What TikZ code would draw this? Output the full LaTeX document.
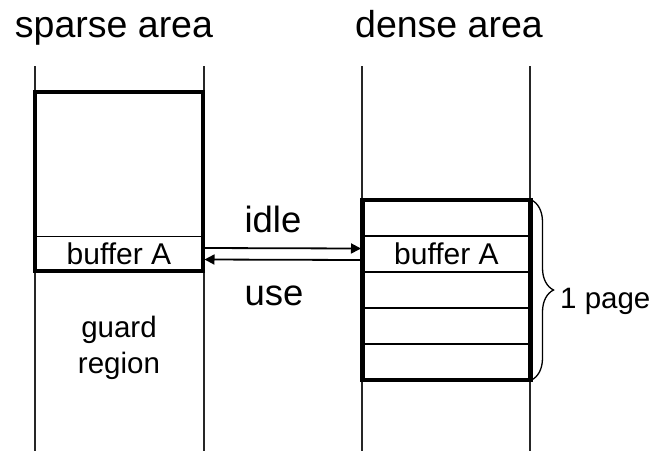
\documentclass[tikz,border=0pt]{standalone}
\usepackage{fontspec}
\setmainfont{Liberation Sans}
\usetikzlibrary{arrows.meta,decorations.pathreplacing}

\begin{document}
\begin{tikzpicture}[x=1pt,y=-1pt,
  title/.style={font=\fontsize{37.5}{45}\selectfont, anchor=base, inner sep=0pt},
  label/.style={font=\fontsize{36.5}{44}\selectfont, anchor=base, inner sep=0pt},
  small/.style={font=\fontsize{29.5}{36}\selectfont, anchor=base, inner sep=0pt},
  column/.style={line width=1.3pt, black!85},
  outerbox/.style={draw, line width=4.5pt, minimum width=168pt, inner sep=0pt, outer sep=0pt},
  slot/.style={draw, line width=1.4pt, minimum width=168pt, minimum height=36pt,
               inner sep=0pt, outer sep=0pt, font=\fontsize{30}{36}\selectfont},
  flow/.style={line width=1.8pt, -{Triangle[length=10pt,width=10pt]}},
  pagebrace/.style={line width=1.3pt, decorate, decoration={brace, amplitude=22pt}}
]
\useasboundingbox (0,0) rectangle (653,451);

% column boundaries
\draw[column] (35,66) -- (35,451);
\draw[column] (204,66) -- (204,451);
\draw[column] (362,66) -- (362,451);
\draw[column] (530,66) -- (530,451);

% headings
\node[title] (hsparse) at (114,37.5) {sparse area};
\node[title] (hdense)  at (449,37.5) {dense area};

% sparse area: one large block with the buffer at its bottom
\node[slot, line width=1pt, minimum height=35pt] (bufL) at (119,253.5) {buffer A};
\node[outerbox, minimum height=179pt] (sparse) at (119,181.5) {};
\node[small] (guard)  at (119,337) {guard};
\node[small] (region) at (119,373) {region};

% dense area: five packed slots forming one page
\node[slot] (d1)   at (446.5,218) {};
\node[slot] (bufR) at (446.5,254) {buffer A};
\node[slot] (d3)   at (446.5,290) {};
\node[slot] (d4)   at (446.5,326) {};
\node[slot] (d5)   at (446.5,362) {};
\node[outerbox, minimum height=180pt] (dense) at (446.5,290) {};

% transfers between the two buffers
\draw[flow] ([yshift=5.5pt]bufL.east) -- ([yshift=5.5pt,xshift=-1.5pt]bufR.west);
\draw[flow] ([yshift=-6pt]bufR.west) -- ([yshift=-6pt,xshift=1.5pt]bufL.east);
\node[label] (idle) at (273,232.5) {idle};
\node[label] (use)  at (274,305) {use};

% page brace
\coordinate (btop) at ([xshift=1pt]dense.north east);
\coordinate (bbot) at ([xshift=1pt]dense.south east);
\draw[pagebrace] (btop) -- (bbot);
\node[small, anchor=base west] (page) at (560,308) {1 page};
\end{tikzpicture}
\end{document}
